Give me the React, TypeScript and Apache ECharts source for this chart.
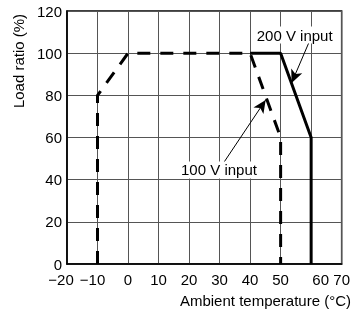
import React, { useEffect, useRef } from "react";
import * as echarts from "echarts";

const xTicks = [-20, -10, 0, 10, 20, 30, 40, 50, 60, 70];
const yTicks = [0, 20, 40, 60, 80, 100, 120];
const input100V: [number, number][] = [
  [-10, 0],
  [-10, 80],
  [0, 100],
  [40, 100],
  [50, 60],
  [50, 0],
];
const input200V: [number, number][] = [
  [40, 100],
  [50, 100],
  [60, 60],
  [60, 0],
];
const label200 = { text: "200 V input", at: [54.6, 108.6], from: [59.2, 104.8], to: [53.6, 85.9] };
const label100 = { text: "100 V input", at: [29.8, 44.6], from: [31.5, 48.4], to: [45.1, 77.8] };

const FONT = "Liberation Sans, Arial, Helvetica, sans-serif";

export default function App() {
  const ref = useRef<HTMLDivElement>(null);
  useEffect(() => {
    if (!ref.current) return;
    const chart = echarts.init(ref.current, undefined, { renderer: "svg" });
    const annot = (a: typeof label200) => ({
      markPoint: {
        silent: true,
        symbol: "rect",
        symbolSize: 0,
        data: [
          {
            coord: a.at,
            label: {
              show: true,
              position: "inside",
              formatter: a.text,
              color: "#000",
              fontSize: 15,
              fontFamily: FONT,
              backgroundColor: "#fff",
              padding: [1, 1],
            },
          },
        ],
      },
      markLine: {
        silent: true,
        symbol: ["none", "arrow"],
        symbolSize: [9, 13],
        label: { show: false },
        lineStyle: { color: "#000", width: 1, type: "solid" },
        data: [[{ coord: a.from }, { coord: a.to }]],
      },
    });
    chart.setOption({
      animation: false,
      grid: {
        left: 67,
        right: 10,
        top: 11,
        bottom: 47,
        show: true,
        borderColor: "#000",
        borderWidth: 1.5,
      },
      xAxis: {
        type: "value",
        min: -20,
        max: 70,
        interval: 10,
        axisLine: { show: true, onZero: false, lineStyle: { color: "#000", width: 1.5 } },
        axisTick: { show: false },
        splitLine: { show: true, lineStyle: { color: "#555", width: 1 } },
        axisLabel: {
          color: "#000",
          fontSize: 15,
          fontFamily: FONT,
          margin: 8,
          showMinLabel: true,
          showMaxLabel: true,
          hideOverlap: false,
          formatter: (v: number) => {
            if (!xTicks.includes(v)) return "";
            const s = v < 0 ? "\u2212" + Math.abs(v) : String(v);
            if (v === -20) return "{l|" + s + "}";
            if (v === -10) return "{m|" + s + "}";
            if (v === 60) return "{r|" + s + "}";
            return s;
          },
          rich: {
            l: { fontSize: 15, fontFamily: FONT, color: "#000", padding: [0, 12, 0, 0] },
            m: { fontSize: 15, fontFamily: FONT, color: "#000", padding: [0, 10, 0, 0] },
            r: { fontSize: 15, fontFamily: FONT, color: "#000", padding: [0, 0, 0, 19] },
          },
        },
      },
      yAxis: {
        type: "value",
        min: 0,
        max: 120,
        interval: 20,
        axisLine: { show: true, onZero: false, lineStyle: { color: "#000", width: 1.5 } },
        axisTick: { show: false },
        splitLine: { show: true, lineStyle: { color: "#555", width: 1 } },
        axisLabel: {
          color: "#000",
          fontSize: 15,
          fontFamily: FONT,
          margin: 5,
          formatter: (v: number) => (yTicks.includes(v) ? String(v) : ""),
        },
      },
      graphic: [
        {
          type: "text",
          x: 18,
          y: 61,
          rotation: Math.PI / 2,
          style: {
            text: "Load ratio (%)",
            font: "15px " + FONT,
            fill: "#000",
            align: "center",
            verticalAlign: "middle",
          },
        },
        {
          type: "text",
          x: 351,
          y: 300,
          style: {
            text: "Ambient temperature (\u00B0C)",
            font: "15px " + FONT,
            fill: "#000",
            align: "right",
            verticalAlign: "middle",
          },
        },
      ],
      series: [
        {
          type: "line",
          data: input100V,
          symbol: "none",
          lineStyle: { color: "#000", width: 3, type: [13, 10] },
          z: 3,
          ...annot(label100),
        },
        {
          type: "line",
          data: input200V,
          symbol: "none",
          lineStyle: { color: "#000", width: 3, type: "solid" },
          z: 4,
          ...annot(label200),
        },
      ],
    });
    return () => chart.dispose();
  }, []);
  return (
    <div
      ref={ref}
      style={{ position: "fixed", left: 0, top: 0, width: 353, height: 311 }}
    />
  );
}
